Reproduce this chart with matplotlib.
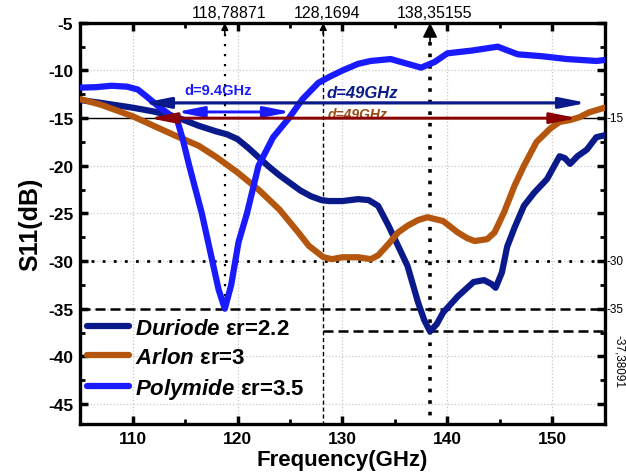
import numpy as np
import matplotlib
matplotlib.use("Agg")
import matplotlib.pyplot as plt
from matplotlib.ticker import MultipleLocator
from matplotlib.transforms import blended_transform_factory

plt.rcParams['font.family'] = ['Liberation Sans', 'DejaVu Sans']
plt.rcParams['mathtext.fontset'] = 'custom'
plt.rcParams['mathtext.it'] = 'Liberation Sans:italic:bold'
plt.rcParams['mathtext.rm'] = 'Liberation Sans:bold'
plt.rcParams['axes.unicode_minus'] = False

# --- data (frequency in GHz, S11 in dB) ---
duriode_f = [105, 107, 110, 112, 114.2, 116.3, 118, 119, 120, 121, 122, 123, 124, 125,
             126, 127, 128, 128.7, 130, 131.5, 132.5, 133.4, 134.4, 135,
             136.2, 137.2, 137.8, 138.35, 139, 139.6, 141, 142.5, 143.5, 144.2,
             144.6, 145.2, 145.7, 146.4, 147.3, 148.3, 149.5, 150.7, 151.2, 151.7,
             152.4, 153.3, 154.2, 155]
duriode_s = [-13.1, -13.4, -13.9, -14.3, -14.9, -15.8, -16.4, -16.7, -17.2, -18.1,
             -19.1, -20.1, -21.0, -21.8, -22.6, -23.2, -23.6, -23.7, -23.7, -23.5,
             -23.6, -24.2, -26.3, -27.7, -30.5, -34.3, -36.2, -37.38, -36.6, -35.4,
             -33.7, -32.2, -32.0, -32.4, -32.8, -31.2, -28.5, -26.5, -24.2, -22.8,
             -21.4, -19.0, -19.2, -19.8, -19.0, -18.3, -17.0, -16.8]

arlon_f = [105, 107, 110, 112, 114.2, 116.3, 118, 120, 122, 124, 125.8, 126.8, 128.2,
           129, 130, 131.5, 132.7, 133.4, 134.4, 135.3, 136.2, 137.2, 138.1, 139.6,
           141, 141.9, 142.6, 143.8, 144.5, 145.4, 146.4, 147.3, 148.5, 149.8,
           150.7, 151.7, 152.6, 153.5, 154.7, 155]
arlon_s = [-13.0, -13.6, -14.8, -15.8, -16.9, -17.9, -19.1, -20.7, -22.5, -24.6,
           -27.0, -28.4, -29.6, -29.8, -29.6, -29.6, -29.8, -29.4, -28.2, -27.0,
           -26.3, -25.7, -25.4, -25.8, -27.0, -27.6, -27.9, -27.7, -27.0, -24.9,
           -22.1, -20.0, -17.5, -16.1, -15.4, -15.2, -14.9, -14.4, -14.0, -13.9]

polymide_f = [105, 106.5, 108, 109.5, 110.5, 111.3, 112.5, 113.5, 114.2, 114.8, 115.4,
              116.0, 116.6, 117.5, 118.2, 118.79, 119.4, 120.1, 120.9, 122, 123.4,
              124.9, 126.2, 127.7, 128.7, 130, 131.5, 132.7, 134.6, 136.2, 137.5,
              138.8, 140, 142.4, 144.8, 146.7, 149, 151.4, 154.2, 155]
polymide_s = [-11.8, -11.75, -11.6, -11.7, -12.0, -12.7, -13.8, -14.6, -15.0, -17.3,
              -20.0, -22.5, -25.0, -29.5, -33.0, -35.0, -32.5, -28.0, -25.0, -20.0,
              -17.0, -15.0, -13.0, -11.3, -10.7, -10.0, -9.3, -9.0, -8.8, -9.3, -9.7,
              -9.1, -8.2, -7.9, -7.5, -8.3, -8.5, -8.8, -9.0, -8.9]

series_labels = [r"$\mathit{Duriode}$ εr=2.2", r"$\mathit{Arlon}$ εr=3",
                 r"$\mathit{Polymide}$ εr=3.5"]
series_colors = ['#0b1a8a', '#b5560f', '#1a1aff']

marker_f = [118.78871, 128.1694, 138.35155]
marker_labels = ["118,78871", "128,1694", "138,35155"]
level_right = [-15, -30, -35]
level_min = -37.38091

fig = plt.figure(figsize=(6.26, 4.77), dpi=100)
ax = fig.add_axes([0.128, 0.109, 0.838, 0.841])

ax.set_xlim(105, 155)
ax.set_ylim(-47.1, -5)
ax.xaxis.set_major_locator(MultipleLocator(10))
ax.xaxis.set_minor_locator(MultipleLocator(5))
ax.yaxis.set_major_locator(MultipleLocator(5))
ax.yaxis.set_minor_locator(MultipleLocator(2.5))
ax.grid(True, which='major', color='#c8c8c8', ls=':', lw=0.9)
ax.tick_params(which='both', direction='in', top=True, right=True,
               labelsize=12.5, pad=5)
ax.tick_params(which='major', length=6, width=2.5)
ax.tick_params(which='minor', length=3.5, width=2)
for lab in ax.get_xticklabels() + ax.get_yticklabels():
    lab.set_fontweight('bold')
for sp in ax.spines.values():
    sp.set_linewidth(2.4)

# reference lines
ax.axhline(-15, color='black', lw=1.0, zorder=2)
ax.plot([105, 155], [-30, -30], color='black', lw=2, ls=(0, (1, 3)), zorder=2)
ax.plot([105, 155], [-35, -35], color='black', lw=1.8, ls=(0, (4, 2)), zorder=2)
ax.plot([marker_f[1], 155], [level_min, level_min], color='black', lw=1.8,
        ls=(0, (4, 2)), zorder=2)
ax.plot([marker_f[0]] * 2, [-6.2, -35], color='black', lw=1.6, ls=(0, (1, 3.5)), zorder=2)
ax.plot([marker_f[1]] * 2, [-6.0, -47.1], color='black', lw=1.0, ls=(0, (3, 2)), zorder=2)
ax.plot([marker_f[2]] * 2, [-7.0, -47.1], color='black', lw=2.6, ls=(0, (1, 2.2)), zorder=2)

# curves
ax.plot(duriode_f, duriode_s, color=series_colors[0], lw=4.5, label=series_labels[0],
        solid_capstyle='round', solid_joinstyle='round', zorder=3)
ax.plot(arlon_f, arlon_s, color=series_colors[1], lw=4.5, label=series_labels[1],
        solid_capstyle='round', solid_joinstyle='round', zorder=3)
ax.plot(polymide_f, polymide_s, color=series_colors[2], lw=4.5, label=series_labels[2],
        solid_capstyle='round', solid_joinstyle='round', zorder=3)

# bandwidth arrows
arrow_style = '<|-|>,head_length=0.8,head_width=0.16'
ax.annotate('', xy=(111.0, -13.4), xytext=(153.3, -13.4),
            arrowprops=dict(arrowstyle=arrow_style, color='#0b1a8a', lw=2.3,
                            mutation_scale=20, shrinkA=0, shrinkB=0), zorder=5)
ax.annotate('', xy=(114.2, -14.35), xytext=(125.1, -14.35),
            arrowprops=dict(arrowstyle=arrow_style, color='#1a1aff', lw=2.1,
                            mutation_scale=20, shrinkA=0, shrinkB=0), zorder=5)
ax.annotate('', xy=(111.6, -15), xytext=(152.4, -15),
            arrowprops=dict(arrowstyle=arrow_style, color='#8b0000', lw=2.1,
                            mutation_scale=20, shrinkA=0, shrinkB=0), zorder=5)
ax.text(114.9, -12.0, "d=9.4GHz", color='#1a1aff', fontsize=10.5,
        fontweight='bold', va='center', ha='left')
ax.text(128.5, -12.3, "d=49GHz", color='#0b1a8a', fontsize=12, fontweight='bold',
        fontstyle='italic', va='center', ha='left')
ax.text(128.6, -14.6, "d=49GHz", color='#9a4a12', fontsize=10, fontweight='bold',
        fontstyle='italic', va='center', ha='left')

# top markers
top_tr = blended_transform_factory(ax.transData, ax.transAxes)
for f, lab, big in zip(marker_f, marker_labels, [False, False, True]):
    ax.annotate('', xy=(f, -5), xytext=(f, -7.0 if big else -6.2),
                arrowprops=dict(arrowstyle='-|>', color='black', lw=1.2,
                                mutation_scale=22 if big else 10,
                                shrinkA=0, shrinkB=0),
                annotation_clip=False, zorder=6)
    ax.text(f + 0.4, 1.006, lab, transform=top_tr, ha='center', va='bottom',
            fontsize=11.5)

# right-side value labels
right_tr = blended_transform_factory(ax.transAxes, ax.transData)
for v in level_right:
    ax.text(1.004, v, str(v), transform=right_tr, ha='left', va='center', fontsize=8.5)
ax.text(1.027, level_min - 0.3, "-37,38091", transform=right_tr, ha='center',
        va='top', rotation=-90, fontsize=8.5)

ax.set_xlabel("Frequency(GHz)", fontsize=16, fontweight='bold', labelpad=2)
ax.set_ylabel("S11(dB)", fontsize=18, fontweight='bold', labelpad=4)

leg = ax.legend(loc='upper left', bbox_to_anchor=(0.005, 0.275), frameon=False,
                fontsize=16, handlelength=1.9, handletextpad=0.25,
                labelspacing=0.35, borderaxespad=0, borderpad=0.2)
for t in leg.get_texts():
    t.set_fontweight('bold')

fig.savefig("out.png", dpi=100)
